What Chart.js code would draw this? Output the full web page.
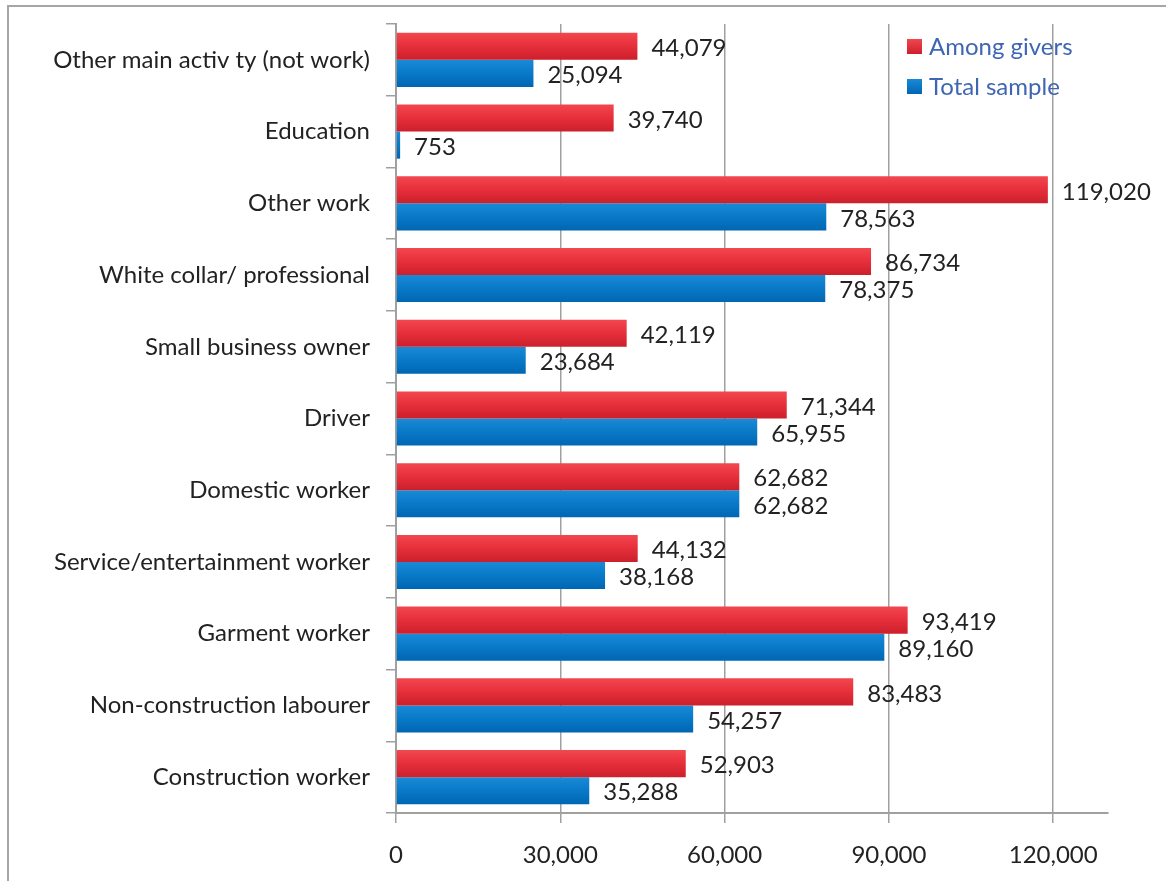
<!DOCTYPE html>
<html>
<head>
<meta charset="utf-8">
<script src="https://cdn.jsdelivr.net/npm/chart.js@4.4.1/dist/chart.umd.min.js"></script>
<style>
  html, body { margin: 0; padding: 0; background: #fff; }
  #frame { position: absolute; left: 7px; top: 5px; width: 1170px; height: 890px;
           border-left: 2px solid #a6a6a6; border-top: 2px solid #a6a6a6; }
  canvas { position: absolute; left: 0; top: 0; }
</style>
</head>
<body>
<div id="frame"></div>
<canvas id="chart" width="1166" height="881"></canvas>
<script>
// categorias, de cima para baixo
const categories = [
  "Other main activ ty (not work)",
  "Education",
  "Other work",
  "White collar/ professional",
  "Small business owner",
  "Driver",
  "Domestic worker",
  "Service/entertainment worker",
  "Garment worker",
  "Non-construction labourer",
  "Construction worker"
];
const amongGivers = [44079, 39740, 119020, 86734, 42119, 71344, 62682, 44132, 93419, 83483, 52903];
const totalSample = [25094, 753, 78563, 78375, 23684, 65955, 62682, 38168, 89160, 54257, 35288];
const xTicks = [0, 30000, 60000, 90000, 120000];

const fontFamily = "Lato, 'Noto Sans', sans-serif";
const fmt = v => v.toLocaleString("en-US");
const catPct = 0.755;

// cores: [topo, meio, base]
const redShades = ["#f2474f", "#e8313c", "#cc1f2c"];
const blueShades = ["#1a8ad6", "#0a7bc9", "#0066b3"];

// degradê vertical em cada barra (como no original)
function barGradient(shades, datasetPos) {
  return function (c) {
    const chart = c.chart;
    const yScale = chart.scales.y;
    if (!chart.chartArea || !yScale) return shades[1];
    const center = yScale.getPixelForValue(c.dataIndex);
    const band = (chart.chartArea.bottom - chart.chartArea.top) / categories.length * catPct / 2;
    const top = datasetPos === 0 ? center - band : center;
    const g = chart.ctx.createLinearGradient(0, top, 0, top + band);
    g.addColorStop(0, shades[0]);
    g.addColorStop(0.45, shades[1]);
    g.addColorStop(1, shades[2]);
    return g;
  };
}

// rótulos de valor à direita das barras
const valueLabels = {
  id: "valueLabels",
  afterDatasetsDraw(chart) {
    const ctx = chart.ctx;
    ctx.save();
    ctx.font = "24px " + fontFamily;
    ctx.fillStyle = "#222";
    ctx.textBaseline = "middle";
    ctx.textAlign = "left";
    chart.data.datasets.forEach((ds, i) => {
      chart.getDatasetMeta(i).data.forEach((bar, j) => {
        ctx.fillText(fmt(ds.data[j]), bar.x + 14, bar.y + 2);
      });
    });
    ctx.restore();
  }
};

// legenda dentro da área do gráfico
const insideLegend = {
  id: "insideLegend",
  afterDraw(chart) {
    const ctx = chart.ctx;
    ctx.save();
    ctx.font = "24px " + fontFamily;
    ctx.textBaseline = "middle";
    [redShades, blueShades].forEach((shades, i) => {
      const y = 47 + i * 40;
      const g = ctx.createLinearGradient(0, y - 8, 0, y + 7);
      g.addColorStop(0, shades[0]);
      g.addColorStop(1, shades[2]);
      ctx.fillStyle = g;
      ctx.fillRect(907, y - 8, 15, 15);
      ctx.fillStyle = "#3f66b3";
      ctx.fillText(chart.data.datasets[i].label, 929, y);
    });
    ctx.restore();
  }
};

new Chart(document.getElementById("chart").getContext("2d"), {
  type: "bar",
  data: {
    labels: categories,
    datasets: [
      { label: "Among givers", data: amongGivers, backgroundColor: barGradient(redShades, 0), categoryPercentage: catPct, barPercentage: 1.0 },
      { label: "Total sample", data: totalSample, backgroundColor: barGradient(blueShades, 1), categoryPercentage: catPct, barPercentage: 1.0 }
    ]
  },
  options: {
    indexAxis: "y",
    responsive: false,
    animation: false,
    layout: { padding: { top: 24, right: 58, left: 10, bottom: 0 } },
    plugins: { legend: { display: false }, tooltip: { enabled: false } },
    scales: {
      x: {
        min: 0,
        max: 130000,
        afterBuildTicks: scale => { scale.ticks = xTicks.map(v => ({ value: v })); },
        afterFit: scale => { scale.height = 881 - 813; },
        grid: { color: "#a0a0a0", lineWidth: 1.5, tickLength: 10, drawTicks: true },
        border: { color: "#a0a0a0", width: 2 },
        ticks: { color: "#222", font: { size: 24, family: fontFamily }, padding: 18, callback: v => fmt(v) }
      },
      y: {
        afterFit: scale => {
          scale.width = 396 - 10;
          scale.paddingTop = 0;
          scale.paddingBottom = 0;
        },
        grid: { drawOnChartArea: false, color: "#a0a0a0", lineWidth: 1.5, tickLength: 10, offset: true },
        border: { color: "#a0a0a0", width: 2 },
        ticks: { color: "#222", font: { size: 24, family: fontFamily }, padding: 16 }
      }
    }
  },
  plugins: [valueLabels, insideLegend]
});
</script>
</body>
</html>
